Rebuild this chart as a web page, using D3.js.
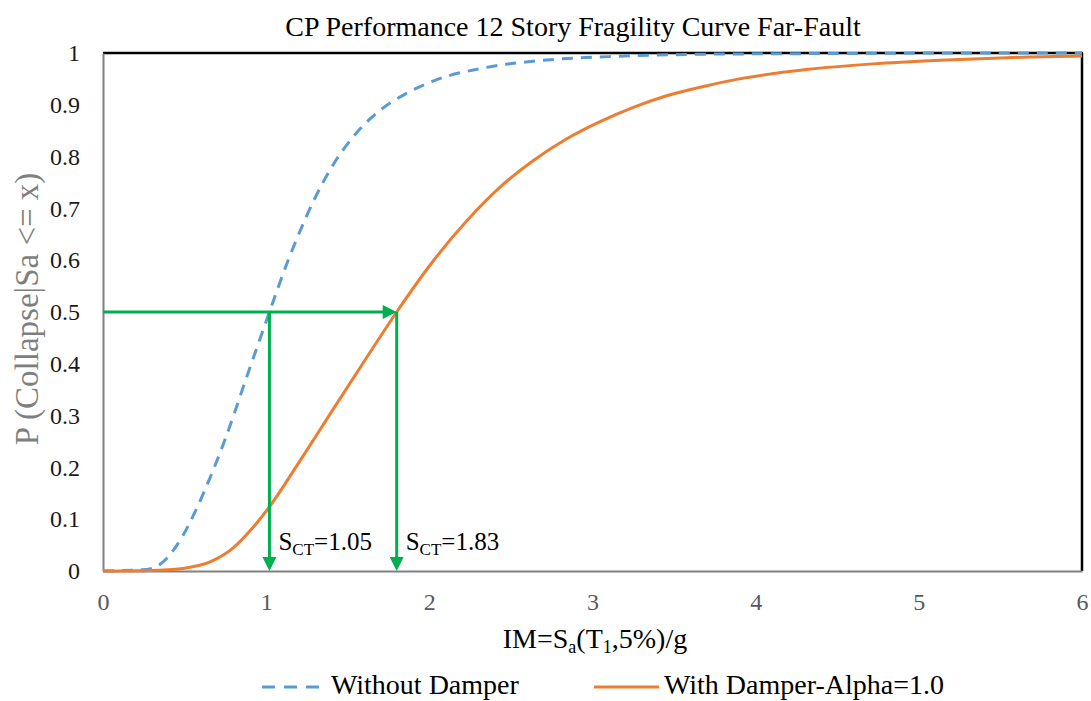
<!DOCTYPE html>
<html>
<head>
<meta charset="utf-8">
<script src="https://cdnjs.cloudflare.com/ajax/libs/d3/7.8.5/d3.min.js"></script>
<style>
  html, body { margin: 0; padding: 0; background: #fff; }
  svg { display: block; }
  text { font-family: "Liberation Serif", "Times New Roman", serif; }
</style>
</head>
<body>
<svg id="chart" width="1091" height="701"></svg>
<script>
// ---------- data ----------
const chartTitle = "CP Performance 12 Story Fragility Curve Far-Fault";
const xTicks = [0, 1, 2, 3, 4, 5, 6];
const yTicks = [0, 0.1, 0.2, 0.3, 0.4, 0.5, 0.6, 0.7, 0.8, 0.9, 1];
const yTickLabels = ["0", "0.1", "0.2", "0.3", "0.4", "0.5", "0.6", "0.7", "0.8", "0.9", "1"];

const seriesNames = ["Without Damper", "With Damper-Alpha=1.0"];

const imNoDamper = [0, 0.27, 0.37, 0.47, 0.57, 0.66, 0.74, 0.80, 0.88, 0.94, 1.02, 1.13, 1.21, 1.29, 1.41, 1.53, 1.70, 1.86, 2.05, 2.33, 2.70, 3.10, 3.80, 4.50, 5.20, 6.00];
const pNoDamper  = [0, 0.003, 0.018, 0.058, 0.118, 0.183, 0.247, 0.300, 0.374, 0.428, 0.500, 0.596, 0.658, 0.714, 0.784, 0.837, 0.890, 0.922, 0.949, 0.971, 0.986, 0.993, 0.998, 0.999, 1.0, 1.0];

const imDamper = [0, 0.29, 0.49, 0.66, 0.80, 0.90, 1.02, 1.21, 1.41, 1.62, 1.80, 2.02, 2.23, 2.43, 2.64, 2.84, 3.05, 3.25, 3.45, 3.66, 3.90, 4.31, 4.72, 5.13, 5.54, 6.00];
const pDamper  = [0, 0.001, 0.005, 0.018, 0.045, 0.077, 0.124, 0.214, 0.312, 0.414, 0.500, 0.597, 0.676, 0.740, 0.793, 0.834, 0.868, 0.895, 0.917, 0.934, 0.950, 0.968, 0.979, 0.986, 0.991, 0.994];

// median-collapse annotations (arrow positions as drawn, label values as printed)
const sctArrowX = [1.02, 1.80];
const sctLabels = ["1.05", "1.83"];
const sctLevel = 0.5;

// ---------- layout ----------
const svg = d3.select("#chart");
const pLeft = 103, pRight = 1082, pTop = 53, pBottom = 571;
const x = d3.scaleLinear().domain([0, 6]).range([pLeft, pRight]);
const y = d3.scaleLinear().domain([0, 1]).range([pBottom, pTop]);

const blue = "#5b9bd5", orange = "#ed7d31", green = "#00b050";

// title
svg.append("text")
  .attr("x", 573).attr("y", 36)
  .attr("text-anchor", "middle")
  .attr("font-size", 28).attr("fill", "#000")
  .text(chartTitle);

// frame: top & right black, left & bottom gray
svg.append("line").attr("x1", pLeft).attr("x2", pRight + 1).attr("y1", pTop).attr("y2", pTop)
  .attr("stroke", "#000").attr("stroke-width", 2.5);
svg.append("line").attr("x1", pRight).attr("x2", pRight).attr("y1", pTop).attr("y2", pBottom)
  .attr("stroke", "#000").attr("stroke-width", 2.5);

// axes via d3 axis generators
const xAxis = svg.append("g").attr("transform", `translate(0,${pBottom})`)
  .call(d3.axisBottom(x).tickValues(xTicks).tickSize(0).tickPadding(22).tickFormat(d3.format("d")));
xAxis.select(".domain").attr("stroke", "#808080").attr("stroke-width", 2);
xAxis.selectAll("text").attr("font-size", 24).attr("fill", "#595959")
  .attr("font-family", "Liberation Serif, serif");

const yAxis = svg.append("g").attr("transform", `translate(${pLeft},0)`)
  .call(d3.axisLeft(y).tickValues(yTicks).tickSize(0).tickPadding(23)
    .tickFormat((d, i) => yTickLabels[i]));
yAxis.select(".domain").attr("stroke", "#808080").attr("stroke-width", 2);
yAxis.selectAll("text").attr("font-size", 24).attr("fill", "#1a1a1a")
  .attr("font-family", "Liberation Serif, serif");

// curves
const line = d3.line().x(d => x(d[0])).y(d => y(d[1])).curve(d3.curveMonotoneX);
const noDamper = imNoDamper.map((v, i) => [v, pNoDamper[i]]);
const damper = imDamper.map((v, i) => [v, pDamper[i]]);

svg.append("path").datum(noDamper).attr("d", line)
  .attr("fill", "none").attr("stroke", blue).attr("stroke-width", 3)
  .attr("stroke-dasharray", "11,8");
svg.append("path").datum(damper).attr("d", line)
  .attr("fill", "none").attr("stroke", orange).attr("stroke-width", 3);

// green arrows
const g = svg.append("g");
const ah = 14, aw = 7;
const xEnd = x(sctArrowX[1]), yLev = y(sctLevel);
g.append("line").attr("x1", x(0)).attr("x2", xEnd - ah + 1).attr("y1", yLev).attr("y2", yLev)
  .attr("stroke", green).attr("stroke-width", 3);
g.append("path").attr("d", `M${xEnd},${yLev} L${xEnd - ah},${yLev - aw} L${xEnd - ah},${yLev + aw} Z`)
  .attr("fill", green);
sctArrowX.forEach((v, i) => {
  const xx = x(v);
  g.append("line").attr("x1", xx).attr("x2", xx).attr("y1", yLev).attr("y2", y(0) - ah + 1)
    .attr("stroke", green).attr("stroke-width", 3);
  g.append("path").attr("d", `M${xx},${y(0)} L${xx - aw},${y(0) - ah} L${xx + aw},${y(0) - ah} Z`)
    .attr("fill", green);
  const t = svg.append("text").attr("x", xx + 9).attr("y", y(0) - 21)
    .attr("font-size", 25).attr("fill", "#000");
  t.append("tspan").text("S");
  t.append("tspan").attr("font-size", 17).attr("dy", 5).text("CT");
  t.append("tspan").attr("dy", -5).text("=" + sctLabels[i]);
});

// y-axis title
svg.append("text")
  .attr("transform", `translate(38,${(pTop + pBottom) / 2 - 3}) rotate(-90)`)
  .attr("text-anchor", "middle")
  .attr("font-size", 33).attr("fill", "#7f7f7f")
  .text("P (Collapse|Sa <= x)");

// x-axis title with subscripts
const xt = svg.append("text").attr("x", 595).attr("y", 648)
  .attr("text-anchor", "middle").attr("font-size", 28).attr("fill", "#000");
xt.append("tspan").text("IM=S");
xt.append("tspan").attr("font-size", 18).attr("dy", 5).text("a");
xt.append("tspan").attr("dy", -5).text("(T");
xt.append("tspan").attr("font-size", 18).attr("dy", 5).text("1");
xt.append("tspan").attr("dy", -5).text(",5%)/g");

// legend
const legY = 687;
const lg = svg.append("g");
lg.append("line").attr("x1", 262).attr("x2", 322).attr("y1", legY).attr("y2", legY)
  .attr("stroke", blue).attr("stroke-width", 3).attr("stroke-dasharray", "13,9");
lg.append("text").attr("x", 331).attr("y", 694).attr("font-size", 28).attr("fill", "#000")
  .text(seriesNames[0]);
lg.append("line").attr("x1", 594).attr("x2", 659).attr("y1", legY).attr("y2", legY)
  .attr("stroke", orange).attr("stroke-width", 3);
lg.append("text").attr("x", 664).attr("y", 694).attr("font-size", 28).attr("fill", "#000")
  .text(seriesNames[1]);
</script>
</body>
</html>
